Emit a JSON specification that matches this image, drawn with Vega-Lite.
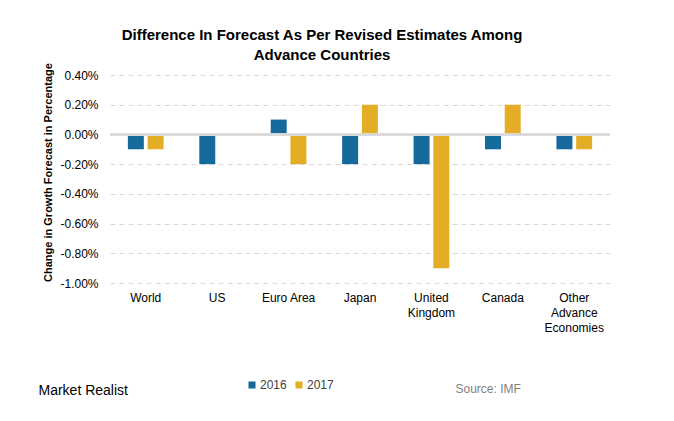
{
  "$schema": "https://vega.github.io/schema/vega-lite/v6.json",
  "width": 500,
  "height": 208,
  "autosize": {"type": "none"},
  "padding": {"left": 110, "top": 75, "right": 64, "bottom": 138},
  "background": "white",
  "config": {
    "font": "Liberation Sans",
    "view": {"stroke": null}
  },
  "title": {
    "text": ["Difference In Forecast As Per Revised Estimates Among", "Advance Countries"],
    "font": "Liberation Sans",
    "fontSize": 15,
    "fontWeight": "bold",
    "color": "#000000",
    "lineHeight": 20,
    "anchor": "middle",
    "frame": "group",
    "dx": -38,
    "dy": 10,
    "offset": 10
  },
  "data": {
    "values": [
      {"region": "World", "year": "2016", "change": -0.1},
      {"region": "World", "year": "2017", "change": -0.1},
      {"region": "US", "year": "2016", "change": -0.2},
      {"region": "US", "year": "2017", "change": 0.0},
      {"region": "Euro Area", "year": "2016", "change": 0.1},
      {"region": "Euro Area", "year": "2017", "change": -0.2},
      {"region": "Japan", "year": "2016", "change": -0.2},
      {"region": "Japan", "year": "2017", "change": 0.2},
      {"region": "United Kingdom", "year": "2016", "change": -0.2},
      {"region": "United Kingdom", "year": "2017", "change": -0.9},
      {"region": "Canada", "year": "2016", "change": -0.1},
      {"region": "Canada", "year": "2017", "change": 0.2},
      {"region": "Other Advance Economies", "year": "2016", "change": -0.1},
      {"region": "Other Advance Economies", "year": "2017", "change": -0.1}
    ]
  },
  "layer": [
    {
      "mark": {"type": "bar"},
      "encoding": {
        "x": {
          "field": "region",
          "type": "nominal",
          "sort": null,
          "scale": {"paddingInner": 0.5, "paddingOuter": 0.25},
          "axis": {
            "title": "Source: IMF",
            "titleFont": "Liberation Sans",
            "titleFontSize": 12,
            "titleFontWeight": "normal",
            "titleColor": "#7f7f7f",
            "titleX": 345,
            "titleY": 105,
            "titleAlign": "left",
            "titleBaseline": "middle",
            "labelAngle": 0,
            "labelFontSize": 12,
            "labelColor": "#000000",
            "labelPadding": 9,
            "labelBaseline": "top",
            "labelLineHeight": 15,
            "labelExpr": "datum.value == 'United Kingdom' ? ['United', 'Kingdom'] : datum.value == 'Other Advance Economies' ? ['Other', 'Advance', 'Economies'] : datum.value",
            "ticks": false,
            "domain": false,
            "grid": false
          }
        },
        "xOffset": {
          "field": "year",
          "type": "nominal",
          "scale": {"paddingInner": 0.19, "paddingOuter": 0}
        },
        "y": {
          "field": "change",
          "type": "quantitative",
          "scale": {"domain": [-1, 0.4], "nice": false, "zero": false},
          "axis": {
            "title": "Change in Growth Forecast in Percentage",
            "titleFontSize": 11,
            "titleFontWeight": "bold",
            "titleColor": "#000000",
            "titlePadding": 6,
            "titleY": 97,
            "values": [-1, -0.8, -0.6, -0.4, -0.2, 0, 0.2, 0.4],
            "labelExpr": "replace(format(datum.value, '.2f'), '\u2212', '-') + '%'",
            "labelFontSize": 12,
            "labelColor": "#000000",
            "labelPadding": 12,
            "ticks": false,
            "domain": false,
            "grid": true,
            "gridColor": "#d9d9d9",
            "gridDash": [5, 4],
            "gridWidth": 1
          }
        },
        "color": {
          "field": "year",
          "type": "nominal",
          "scale": {"domain": ["2016", "2017"], "range": ["#15699b", "#e3ad26"]},
          "legend": {
            "title": null,
            "orient": "none",
            "direction": "horizontal",
            "legendX": 136,
            "legendY": 304,
            "symbolType": "square",
            "symbolSize": 50,
            "symbolOpacity": 1,
            "symbolStrokeWidth": 0,
            "labelFontSize": 12,
            "labelColor": "#404040",
            "labelOffset": 2,
            "columnPadding": 6
          }
        }
      }
    },
    {
      "mark": {"type": "rule", "color": "#d9d9d9", "strokeWidth": 1.5},
      "encoding": {
        "y": {
          "datum": 0,
          "type": "quantitative",
          "scale": {"domain": [-1, 0.4], "nice": false, "zero": false},
          "axis": {
            "orient": "right",
            "title": "Market Realist",
            "titleAngle": 0,
            "titleFont": "Liberation Sans",
            "titleFontSize": 14,
            "titleFontWeight": "normal",
            "titleColor": "#000000",
            "titleX": -572,
            "titleY": 315,
            "titleAlign": "left",
            "titleBaseline": "middle",
            "labels": false,
            "ticks": false,
            "domain": false,
            "grid": false
          }
        }
      }
    }
  ],
  "resolve": {"scale": {"y": "independent"}}
}
